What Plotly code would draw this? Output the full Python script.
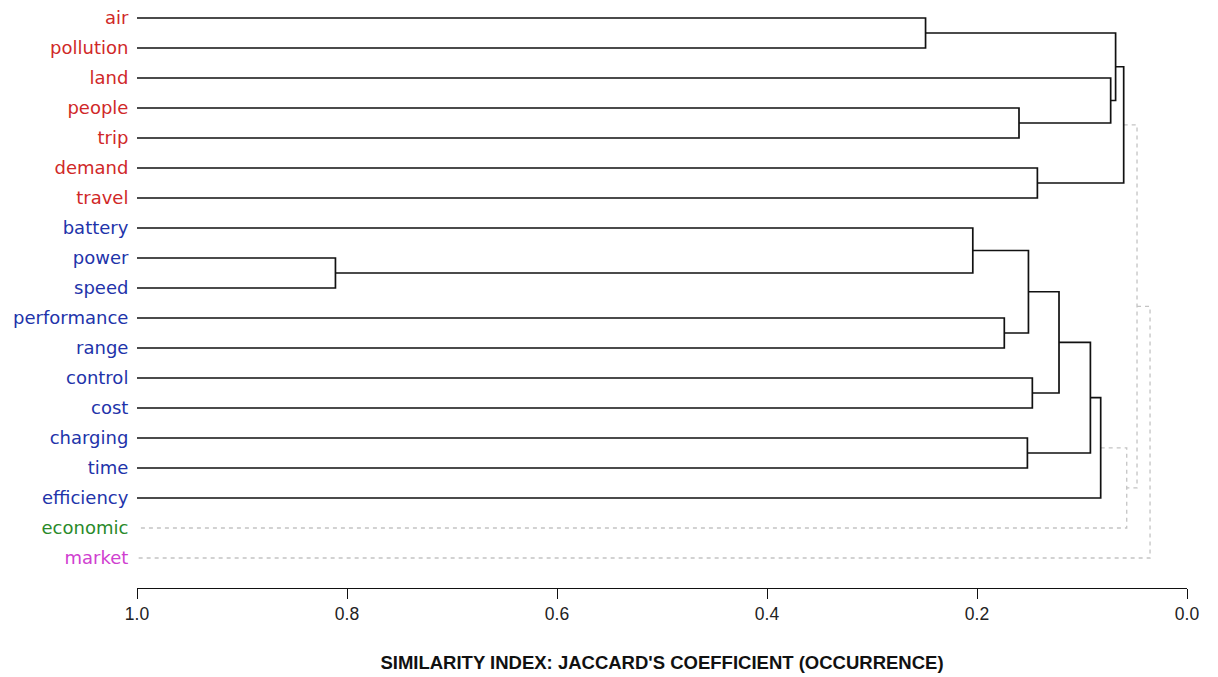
import plotly.graph_objects as go

# ---- data ----
leaves = ["air", "pollution", "land", "people", "trip", "demand", "travel",
          "battery", "power", "speed", "performance", "range", "control", "cost",
          "charging", "time", "efficiency", "economic", "market"]
leaf_group = ["red"] * 7 + ["blue"] * 10 + ["green", "magenta"]

# linkage: children refer to leaf names or "C<k>" (k-th merge), similarity at merge
merge_a = ["air", "people", "land", "C0", "demand", "C3",
           "power", "battery", "performance", "C7", "control", "C9",
           "charging", "C11", "C13", "C14", "C5", "C16"]
merge_b = ["pollution", "trip", "C1", "C2", "travel", "C4",
           "speed", "C6", "range", "C8", "cost", "C10",
           "time", "C12", "efficiency", "economic", "C15", "market"]
merge_sim = [0.249, 0.160, 0.0727, 0.068, 0.1425, 0.0603,
             0.811, 0.204, 0.174, 0.151, 0.1473, 0.1219,
             0.152, 0.092, 0.0822, 0.0574, 0.0476, 0.0352]

x_ticks = [1.0, 0.8, 0.6, 0.4, 0.2, 0.0]
x_title = "SIMILARITY INDEX: JACCARD'S COEFFICIENT (OCCURRENCE)"

group_color = {"red": "#d02828", "blue": "#2233aa", "green": "#2a8a2a", "magenta": "#d040d0"}

# ---- compute dendrogram geometry ----
node_y, node_x, node_groups = {}, {}, {}
for i, name in enumerate(leaves):
    node_y[name] = i
    node_x[name] = 1.0
    node_groups[name] = {leaf_group[i]}

solid_x, solid_y, dash_x, dash_y = [], [], [], []
for k, (a, b, s) in enumerate(zip(merge_a, merge_b, merge_sim)):
    cid = "C%d" % k
    groups = node_groups[a] | node_groups[b]
    xs = [node_x[a], s, s, node_x[b], None]
    ys = [node_y[a], node_y[a], node_y[b], node_y[b], None]
    if len(groups) == 1:
        solid_x += xs; solid_y += ys
    else:
        dash_x += xs; dash_y += ys
    node_x[cid] = s
    node_y[cid] = (node_y[a] + node_y[b]) / 2
    node_groups[cid] = groups

fig = go.Figure()
fig.add_trace(go.Scatter(x=dash_x, y=dash_y, mode="lines",
                         line=dict(color="#c4c4c4", width=1.3, dash="4px,4px"),
                         hoverinfo="skip", showlegend=False))
fig.add_trace(go.Scatter(x=solid_x, y=solid_y, mode="lines",
                         line=dict(color="#111111", width=1.7),
                         hoverinfo="skip", showlegend=False))

ticktext = ["<span style='color:%s'>%s</span>" % (group_color[g], n)
            for n, g in zip(leaves, leaf_group)]

fig.update_layout(
    width=1210, height=669,
    margin=dict(l=129, r=31, t=0, b=89),
    paper_bgcolor="white", plot_bgcolor="white",
    showlegend=False,
    xaxis=dict(range=[1.0, 0.0], tickvals=x_ticks,
               ticktext=["%.1f" % v for v in x_ticks],
               showgrid=False, zeroline=False,
               showline=True, linecolor="#111111", linewidth=1.2,
               ticks="outside", ticklen=10, tickcolor="#111111", tickwidth=1,
               tickfont=dict(family="Liberation Sans Narrow, Arial Narrow, Liberation Sans, sans-serif",
                             size=17.5, color="#222222"),
               title=dict(text="<b>" + x_title + "</b>",
                          font=dict(family="Liberation Sans Narrow, Arial Narrow, Liberation Sans, sans-serif",
                                    size=18.5, color="#111111"),
                          standoff=32)),
    yaxis=dict(range=[19, -1 / 3], tickvals=list(range(len(leaves))), ticktext=ticktext,
               showgrid=False, zeroline=False, showline=False,
               ticks="outside", ticklen=4, tickcolor="rgba(0,0,0,0)",
               ticklabeloverflow="allow",
               tickfont=dict(family="DejaVu Sans, sans-serif", size=18)),
)

fig.write_html("out.html")
